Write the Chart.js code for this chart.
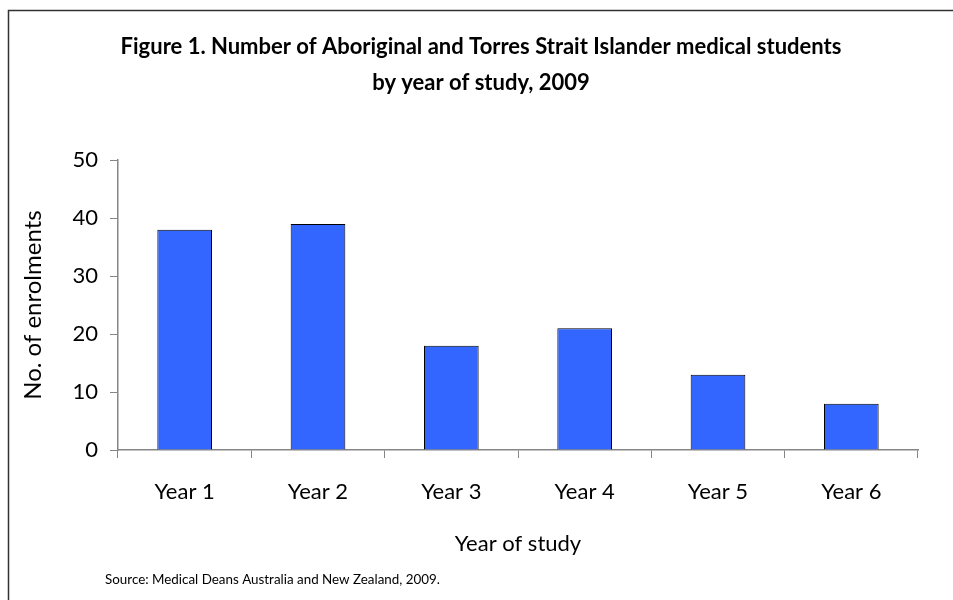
<!DOCTYPE html>
<html>
<head>
<meta charset="utf-8">
<script src="https://cdn.jsdelivr.net/npm/chart.js@4"></script>
<style>
  html, body { margin: 0; padding: 0; background: #fff; }
  #wrap { width: 953px; height: 600px; position: relative; }
</style>
</head>
<body>
<div id="wrap"><canvas id="chart" width="953" height="600"></canvas></div>
<script>
// ===== DATA =====
const years = ["Year 1", "Year 2", "Year 3", "Year 4", "Year 5", "Year 6"];
const enrolments = [38, 39, 18, 21, 13, 8];
const yTicks = [0, 10, 20, 30, 40, 50];

const titleLines = [
    "Figure 1. Number of Aboriginal and Torres Strait Islander medical students",
    "by year of study, 2009"
];
const sourceNote = "Source: Medical Deans Australia and New Zealand, 2009.";

const FONT = "Lato, 'Open Sans', sans-serif";
const AXIS_GREY = "#868686";

// ===== FRAME + SOURCE =====
const framePlugin = {
    id: "frame",
    afterDraw(chart){
        const ctx = chart.ctx;
        ctx.save();
        ctx.strokeStyle = "#333";
        ctx.lineWidth = 1.5;
        ctx.strokeRect(8.5, 10.5, 1200, 1200);

        ctx.fillStyle = "#000";
        ctx.font = "13.4px " + FONT;
        ctx.textBaseline = "middle";
        ctx.textAlign = "left";
        ctx.fillText(sourceNote, 105, 580);
        ctx.restore();
    }
};

// ===== CHART =====
new Chart(document.getElementById("chart"), {
    type: "bar",
    data: {
        labels: years,
        datasets: [{
            label: "Enrolments",
            data: enrolments,
            backgroundColor: "#3366FF",
            borderColor: "#000",
            borderWidth: 1,
            barPercentage: 0.41,
            categoryPercentage: 1
        }]
    },
    options: {
        responsive: false,
        animation: false,
        layout: { padding: { top: 0, right: 0, bottom: 0, left: 9 } },
        plugins: {
            legend: { display: false },
            tooltip: { enabled: false },
            title: {
                display: true,
                text: titleLines,
                color: "#000",
                font: { family: FONT, size: 22, weight: "bold", lineHeight: 1.64 },
                padding: { top: 29, bottom: 59 }
            }
        },
        scales: {
            x: {
                afterFit(scale){ scale.height = 150; },
                grid: {
                    display: true,
                    drawOnChartArea: false,
                    drawTicks: true,
                    tickLength: 8,
                    color: AXIS_GREY,
                    offset: true
                },
                border: { color: AXIS_GREY, width: 1.5 },
                ticks: {
                    color: "#000",
                    font: { family: FONT, size: 22 },
                    padding: 21
                },
                title: {
                    display: true,
                    text: "Year of study",
                    color: "#000",
                    font: { family: FONT, size: 22 },
                    padding: { top: 0, bottom: 43 }
                }
            },
            y: {
                min: 0,
                max: 50,
                afterFit(scale){ scale.width = 109; },
                afterBuildTicks(scale){
                    scale.ticks = yTicks.map(v => ({ value: v }));
                },
                grid: {
                    display: true,
                    drawOnChartArea: false,
                    drawTicks: true,
                    tickLength: 8,
                    color: AXIS_GREY
                },
                border: { color: AXIS_GREY, width: 1.5 },
                ticks: {
                    color: "#000",
                    font: { family: FONT, size: 22 },
                    padding: 12
                },
                title: {
                    display: true,
                    text: "No. of enrolments",
                    color: "#000",
                    font: { family: FONT, size: 24 },
                    padding: { top: 10, bottom: 0 }
                }
            },
            // empty right-hand spacer keeps the plot ending where the original does
            spacer: {
                type: "linear",
                position: "right",
                afterFit(scale){ scale.width = 35; },
                grid: { display: false },
                border: { display: false },
                ticks: { display: false }
            }
        }
    },
    plugins: [framePlugin]
});
</script>
</body>
</html>
